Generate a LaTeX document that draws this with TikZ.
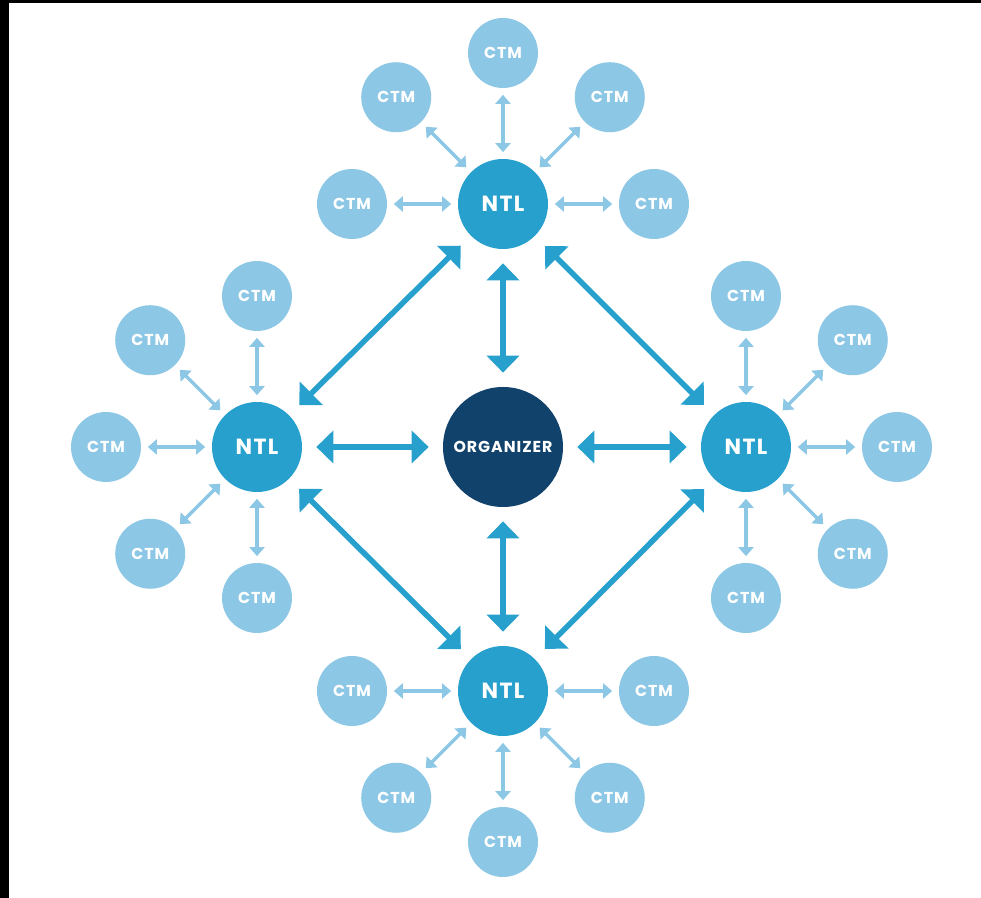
\documentclass[tikz,border=0pt]{standalone}
\usepackage{fontspec}
\usepackage{tikz}
\usetikzlibrary{arrows.meta}
\newfontfamily\tagfont[LetterSpace=6]{Poppins}
\definecolor{ctmBlue}{RGB}{140,199,229}
\definecolor{ntlBlue}{RGB}{40,160,205}
\definecolor{orgNavy}{RGB}{16,66,107}

\begin{document}
\begin{tikzpicture}[
    ctm/.style={circle, fill=ctmBlue, minimum size=1.4cm, inner sep=0pt, text=white, font=\tagfont\bfseries\fontsize{9}{10}\selectfont},
    ntl/.style={circle, fill=ntlBlue, minimum size=1.8cm, inner sep=0pt, text=white, font=\tagfont\bfseries\fontsize{12.5}{14}\selectfont},
    hub/.style={circle, fill=orgNavy, minimum size=2.4cm, inner sep=0pt, text=white, font=\tagfont\bfseries\fontsize{9}{10}\selectfont},
    bigarrow/.style={{Triangle[width=6.4mm,length=3.4mm]}-{Triangle[width=6.4mm,length=3.4mm]}, line width=1.1mm, draw=ntlBlue, shorten >=2.8mm, shorten <=2.8mm},
    smallarrow/.style={{Triangle[width=3mm,length=1.8mm]}-{Triangle[width=3mm,length=1.8mm]}, line width=0.7mm, draw=ctmBlue, shorten >=1.3mm, shorten <=1.3mm}
]
% Frame
\fill[white] (-10.06,-9.02) rectangle (9.56,8.94);
\useasboundingbox (-10.06,-9.02) rectangle (9.56,8.94);
\fill[black] (-10.06,-9.02) rectangle (-9.88,8.94);
\fill[black] (-10.06,8.88) rectangle (9.56,8.94);

% Nodes
\node[hub] (org) at (0,0) {ORGANIZER};
\node[ntl] (ntlT) at (0,4.86) {NTL};
\node[ntl] (ntlL) at (-4.92,0) {NTL};
\node[ntl] (ntlR) at (4.86,0) {NTL};
\node[ntl] (ntlB) at (0,-4.88) {NTL};

% CTM rings
\foreach \n/\angs in {T/{180,135,90,45,0}, L/{90,135,180,225,270}, R/{90,45,0,-45,-90}, B/{180,225,270,315,0}} {
    \foreach \a in \angs {
        \node[ctm] (ctm\n\a) at ([shift={(\a:3.02cm)}]ntl\n.center) {CTM};
        \draw[smallarrow] (ctm\n\a) -- (ntl\n);
    }
}

% Arrows
\foreach \n in {T,L,R,B}
    \draw[bigarrow] (org) -- (ntl\n);
\draw[bigarrow] (ntlT) -- (ntlL);
\draw[bigarrow] (ntlT) -- (ntlR);
\draw[bigarrow] (ntlB) -- (ntlL);
\draw[bigarrow] (ntlB) -- (ntlR);
\end{tikzpicture}
\end{document}
